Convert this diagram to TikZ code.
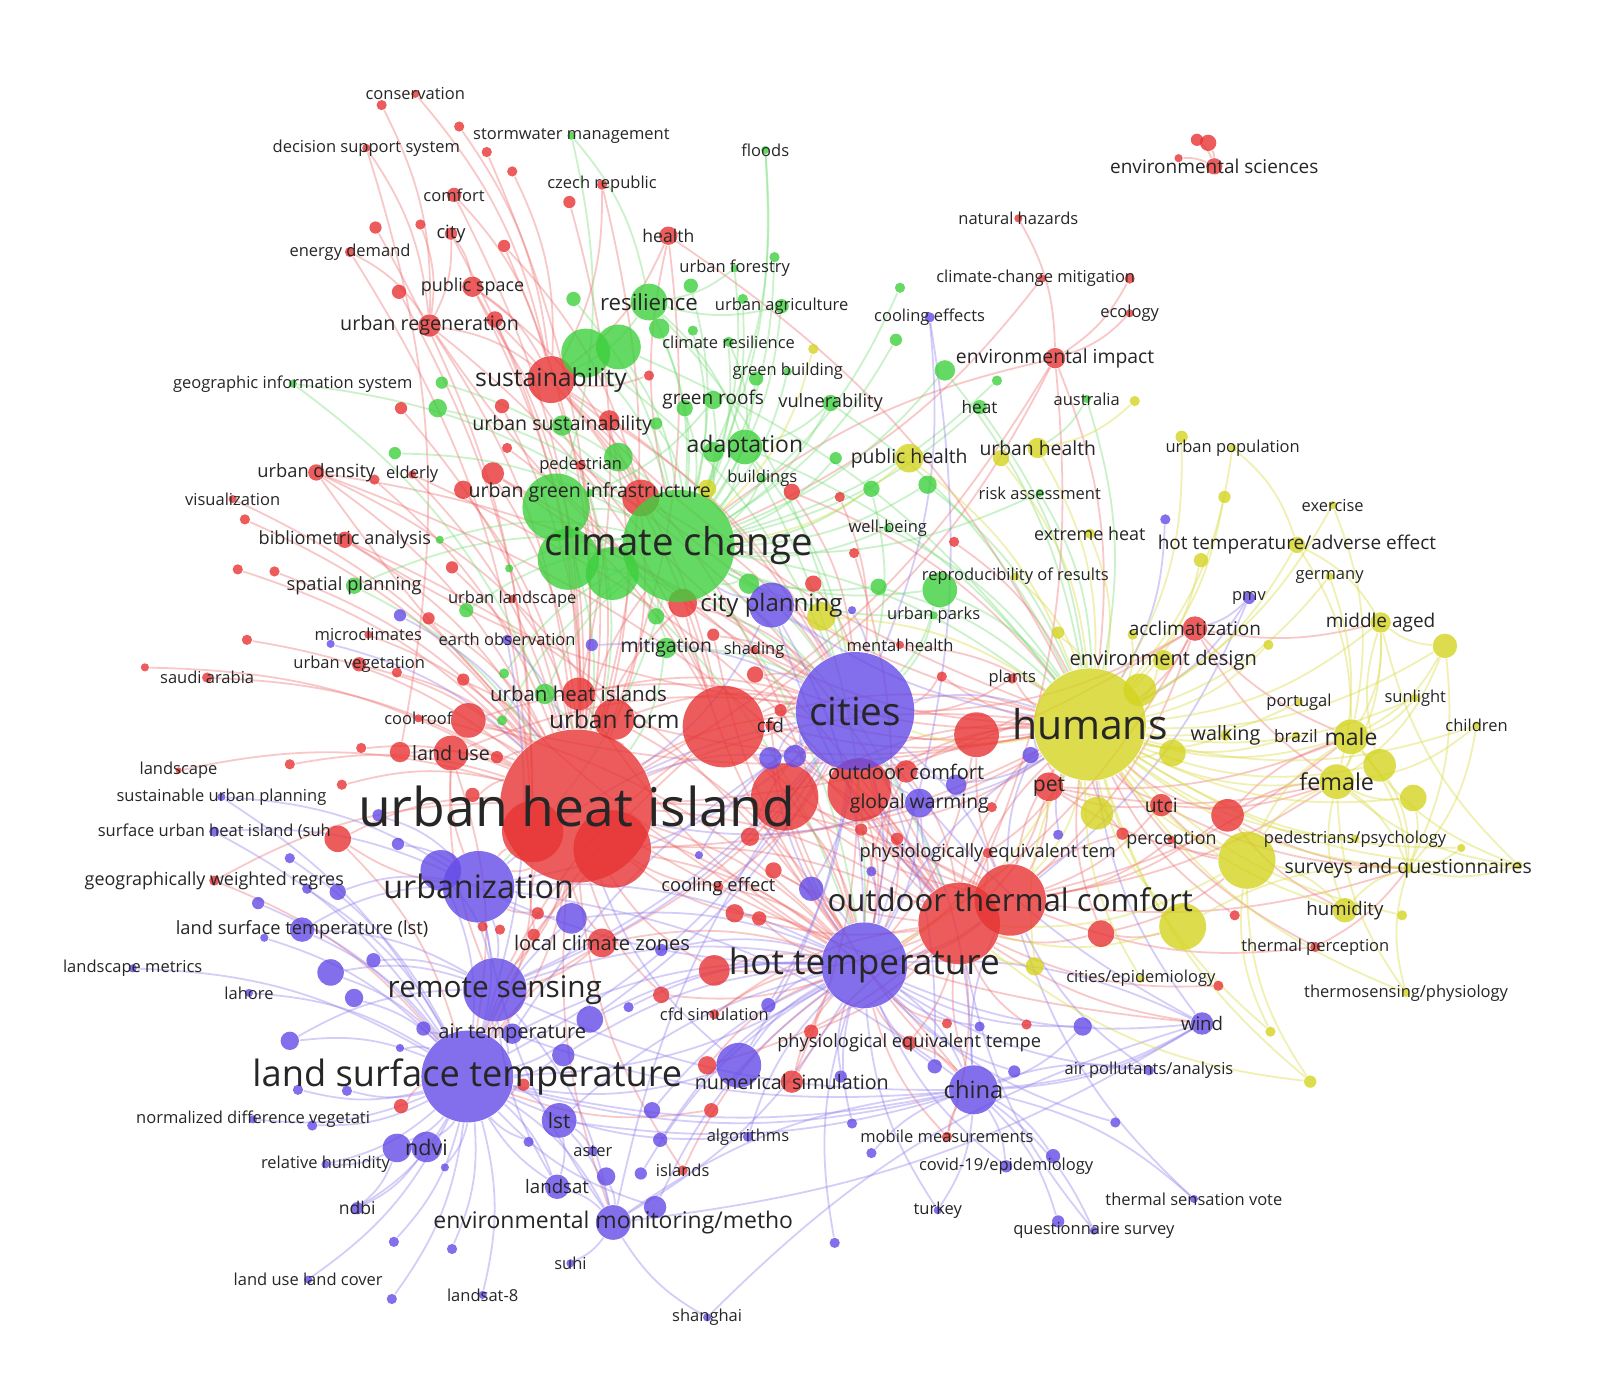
\documentclass[tikz,border=0pt]{standalone}
\usepackage{fontspec}
\setmainfont{Open Sans}
\usepackage{tikz}
\usetikzlibrary{backgrounds}
\definecolor{kwred}{RGB}{232,52,52}
\definecolor{kwgreen}{RGB}{62,208,62}
\definecolor{kwblue}{RGB}{100,74,230}
\definecolor{kwyellow}{RGB}{212,212,32}
\tikzstyle{kw} = [circle, inner sep=0pt, draw=none, fill opacity=.8]
\tikzset{rn/.style={kw, fill=kwred, minimum size=#1*0.2mm},
         gn/.style={kw, fill=kwgreen, minimum size=#1*0.2mm},
         bn/.style={kw, fill=kwblue, minimum size=#1*0.2mm},
         yn/.style={kw, fill=kwyellow, minimum size=#1*0.2mm},
         lbl/.style={font=\fontsize{#1}{#1}\selectfont, text=black!85, inner sep=0pt}}
\tikzstyle{eR} = [draw=kwred!75, opacity=.36, line width=.5pt]
\tikzstyle{eG} = [draw=kwgreen!75, opacity=.36, line width=.5pt]
\tikzstyle{eB} = [draw=kwblue!75, opacity=.36, line width=.5pt]
\tikzstyle{eY} = [draw=kwyellow!85, opacity=.4, line width=.5pt]

\begin{document}
\begin{tikzpicture}[x=0.1mm, y=-0.1mm]
\useasboundingbox (0,0) rectangle (1568,1355);

% red cluster
\node[rn=75] (uhi) at (565,790) {};
\node[rn=38] (uhiB) at (600,832) {};
\node[rn=30] (uhiC) at (522,815) {};
\node[rn=40] (bigr) at (709,712) {};
\node[rn=33] (wr) at (769,781) {};
\node[rn=31] (ocB) at (842,774) {};
\node[rn=40] (otc) at (940,905) {};
\node[rn=35] (otc2) at (990,882) {};
\node[rn=23] (sus) at (540,372) {};
\node[rn=22] (redAL) at (957,720) {};
\node[rn=20] (uform) at (602,705) {};
\node[rn=18] (redAC) at (628,488) {};
\node[rn=17] (coolb) at (459,706) {};
\node[rn=17] (luse) at (442,738) {};
\node[rn=16] (uhis) at (567,680) {};
\node[rn=16] (redAN) at (1203,799) {};
\node[rn=15] (redAU) at (700,951) {};
\node[rn=14] (pet) at (1028,771) {};
\node[rn=14] (lcz) at (590,924) {};
\node[rn=14] (redAB) at (669,591) {};
\node[rn=13] (suhr) at (331,822) {};
\node[rn=13] (redBA) at (1079,915) {};
\node[rn=11] (oc) at (888,756) {};
\node[rn=11] (ureg) at (421,319) {};
\node[rn=11] (redM) at (483,464) {};
\node[rn=11] (utci) at (1138,789) {};
\node[rn=12] (accl) at (1171,616) {};
\node[rn=11] (numsim) at (776,1060) {};
\node[rn=10] (pubsp) at (463,281) {};
\node[rn=10] (luseb) at (392,737) {};
\node[rn=10] (usus) at (597,412) {};
\node[rn=9] (health) at (655,231) {};
\node[rn=10] (envimp) at (1034,351) {};
\node[rn=9] (redN) at (454,480) {};
\node[rn=9] (redAQ) at (735,820) {};
\node[rn=9] (redAS) at (720,895) {};
\node[rn=9] (redAX2) at (693,1044) {};
\node[rn=8] (envs) at (1190,163) {};
\node[rn=8] (envsB) at (1184,140) {};
\node[rn=6] (envsA) at (1173,137) {};
\node[rn=4] (envsC) at (1155,155) {};
\node[rn=8] (redI) at (485,313) {};
\node[rn=8] (udens) at (310,463) {};
\node[rn=8] (biblio) at (338,529) {};
\node[rn=8] (redAD) at (740,661) {};
\node[rn=8] (redAF) at (776,482) {};
\node[rn=8] (redAR) at (758,853) {};
\node[rn=8] (redAV) at (648,975) {};
\node[rn=8] (redAY2) at (797,572) {};
\node[rn=7] (comf) at (445,191) {};
\node[rn=7] (redH) at (391,286) {};
\node[rn=7] (uveg) at (352,651) {};
\node[rn=7] (redJ) at (492,398) {};
\node[rn=7] (redAA) at (463,779) {};
\node[rn=7] (redAT) at (744,900) {};
\node[rn=7] (redAW) at (795,1011) {};
\node[rn=7] (peqtb) at (891,1022) {};
\node[rn=7] (redAX) at (697,1088) {};
\node[rn=7] (redBD) at (393,1084) {};
\node[rn=6] (city) at (442,229) {};
\node[rn=6] (redE) at (368,223) {};
\node[rn=6] (redG) at (494,241) {};
\node[rn=6] (redD) at (558,198) {};
\node[rn=6] (redK) at (393,400) {};
\node[rn=6] (redR) at (443,556) {};
\node[rn=6] (redS) at (420,606) {};
\node[rn=6] (redW) at (454,666) {};
\node[rn=6] (redAE) at (699,622) {};
\node[rn=6] (redAM) at (1100,817) {};
\node[rn=6] (redAP) at (879,822) {};
\node[rn=6] (redAK) at (765,696) {};
\node[rn=6] (redBF) at (487,742) {};
\node[rn=6] (redBG) at (844,813) {};
\node[rn=6] (redBH) at (527,895) {};
\node[rn=6] (redBI) at (523,916) {};
\node[rn=6] (redBJ) at (513,1063) {};
\node[rn=5] (consb) at (374,103) {};
\node[rn=5] (redA) at (450,124) {};
\node[rn=5] (redB) at (477,149) {};
\node[rn=5] (redC) at (502,168) {};
\node[rn=5] (redF) at (412,220) {};
\node[rn=5] (czech) at (590,181) {};
\node[rn=5] (ened) at (343,247) {};
\node[rn=5] (redL) at (497,439) {};
\node[rn=5] (elderB) at (367,470) {};
\node[rn=5] (pedes) at (569,456) {};
\node[rn=5] (redO) at (240,509) {};
\node[rn=5] (redP) at (233,558) {};
\node[rn=5] (redQ) at (269,560) {};
\node[rn=5] (redT) at (242,627) {};
\node[rn=5] (saudi) at (203,664) {};
\node[rn=5] (redV) at (389,659) {};
\node[rn=5] (redX) at (354,733) {};
\node[rn=5] (redY) at (284,749) {};
\node[rn=5] (redZ) at (335,769) {};
\node[rn=5] (gwr) at (210,863) {};
\node[rn=5] (redAG) at (823,487) {};
\node[rn=5] (redAH) at (837,542) {};
\node[rn=5] (redAI) at (935,531) {};
\node[rn=5] (redBK) at (636,368) {};
\node[rn=5] (redBL) at (923,663) {};
\node[rn=5] (redBM) at (972,791) {};
\node[rn=5] (plants) at (992,665) {};
\node[rn=5] (cooleff) at (704,869) {};
\node[rn=5] (cfdsim) at (700,994) {};
\node[rn=5] (mobm) at (928,1114) {};
\node[rn=5] (islands) at (669,1147) {};
\node[rn=5] (redAY) at (928,1003) {};
\node[rn=5] (redAZ) at (1006,1004) {};
\node[rn=5] (redBB) at (1210,897) {};
\node[rn=5] (thperc) at (1289,928) {};
\node[rn=5] (redBC) at (1194,966) {};
\node[rn=5] (redBN) at (473,908) {};
\node[rn=5] (redBO) at (490,911) {};
\node[rn=5] (peqt) at (968,836) {};
\node[rn=5] (ccmit) at (1107,273) {};
\node[rn=5] (cfd) at (755,711) {};
\node[rn=4] (cons) at (407,92) {};
\node[rn=4] (dss) at (359,145) {};
\node[rn=4] (elder) at (404,465) {};
\node[rn=4] (visual) at (228,489) {};
\node[rn=4] (micro) at (361,622) {};
\node[rn=4] (uland) at (502,587) {};
\node[rn=4] (redU) at (142,654) {};
\node[rn=4] (nathaz) at (998,214) {};
\node[rn=4] (ccmitB) at (1021,273) {};
\node[rn=4] (ecol) at (1107,307) {};
\node[rn=4] (cool) at (410,704) {};
\node[rn=4] (shade) at (739,637) {};
\node[rn=4] (menth) at (882,632) {};
\node[rn=4] (percep) at (1148,823) {};
\node[rn=3] (lscp) at (175,755) {};

% green cluster
\node[gn=55] (cc) at (665,535) {};
\node[gn=33] (ccB) at (545,497) {};
\node[gn=30] (ccC) at (557,548) {};
\node[gn=26] (ccD) at (600,562) {};
\node[gn=24] (greenE) at (574,346) {};
\node[gn=22] (greenF) at (606,340) {};
\node[gn=18] (res) at (636,296) {};
\node[gn=17] (ada) at (730,438) {};
\node[gn=17] (greenAD) at (921,578) {};
\node[gn=14] (greenU) at (606,448) {};
\node[gn=10] (greenG) at (646,322) {};
\node[gn=10] (greenL) at (926,363) {};
\node[gn=10] (greenR) at (551,417) {};
\node[gn=10] (greenS) at (699,443) {};
\node[gn=10] (mitig) at (653,635) {};
\node[gn=10] (greenAE) at (534,680) {};
\node[gn=10] (greenAB) at (734,572) {};
\node[gn=9] (groofs) at (699,392) {};
\node[gn=9] (greenO) at (429,400) {};
\node[gn=9] (greenW) at (909,475) {};
\node[gn=8] (greenI) at (671,400) {};
\node[gn=8] (vul) at (814,395) {};
\node[gn=8] (splan) at (347,574) {};
\node[gn=8] (greenV) at (854,479) {};
\node[gn=8] (greenAC) at (861,575) {};
\node[gn=8] (greenAH) at (643,604) {};
\node[gn=7] (greenB) at (562,293) {};
\node[gn=7] (greenC) at (677,280) {};
\node[gn=7] (uagri) at (766,300) {};
\node[gn=7] (greenBld) at (741,371) {};
\node[gn=7] (heat) at (960,399) {};
\node[gn=7] (greenAA) at (457,598) {};
\node[gn=6] (greenN) at (433,375) {};
\node[gn=6] (greenK) at (878,333) {};
\node[gn=6] (greenP) at (387,444) {};
\node[gn=6] (greenQ) at (643,415) {};
\node[gn=6] (greenT) at (819,449) {};
\node[gn=5] (greenA) at (759,252) {};
\node[gn=5] (greenD) at (728,293) {};
\node[gn=5] (clres) at (714,335) {};
\node[gn=5] (greenH) at (679,324) {};
\node[gn=5] (greenJ) at (882,282) {};
\node[gn=5] (greenM) at (977,373) {};
\node[gn=5] (greenAF) at (492,706) {};
\node[gn=5] (greenAI) at (494,660) {};
\node[gn=4] (uforest) at (720,263) {};
\node[gn=4] (storm) at (560,133) {};
\node[gn=4] (floods) at (750,147) {};
\node[gn=4] (gis) at (287,376) {};
\node[gn=4] (greenY) at (431,529) {};
\node[gn=4] (greenZ) at (499,557) {};
\node[gn=4] (risk) at (1019,483) {};
\node[gn=4] (wellb) at (870,518) {};
\node[gn=4] (uparks) at (915,603) {};
\node[gn=4] (aus) at (1065,391) {};
\node[gn=4] (ugi) at (578,483) {};
\node[gn=4] (build) at (747,469) {};
\node[gn=4] (gbuild) at (772,364) {};

% blue cluster
\node[bn=58] (cities) at (838,697) {};
\node[bn=45] (lst) at (458,1055) {};
\node[bn=42] (ht) at (847,946) {};
\node[bn=35] (urb) at (469,869) {};
\node[bn=31] (rs) at (485,970) {};
\node[bn=24] (china) at (954,1068) {};
\node[bn=22] (cp) at (756,593) {};
\node[bn=22] (numsimB) at (724,1044) {};
\node[bn=20] (urbB) at (432,853) {};
\node[bn=17] (lstn) at (548,1098) {};
\node[bn=17] (envmon) at (601,1198) {};
\node[bn=15] (blueP) at (560,900) {};
\node[bn=15] (ndvi) at (418,1124) {};
\node[bn=14] (ndviB) at (389,1125) {};
\node[bn=14] (gw) at (901,787) {};
\node[bn=13] (blueS) at (324,953) {};
\node[bn=13] (blueY) at (578,999) {};
\node[bn=12] (lsat) at (546,1163) {};
\node[bn=12] (lstl) at (296,911) {};
\node[bn=12] (blueQ) at (795,871) {};
\node[bn=11] (blueF) at (755,743) {};
\node[bn=11] (blueG) at (779,741) {};
\node[bn=11] (blueAP) at (642,1183) {};
\node[bn=11] (wind) at (1178,1003) {};
\node[bn=11] (blueBA) at (552,1034) {};
\node[bn=10] (blueI) at (937,769) {};
\node[bn=10] (airt) at (502,1013) {};
\node[bn=9] (blueT) at (347,978) {};
\node[bn=9] (blueV) at (284,1020) {};
\node[bn=9] (blueAB) at (1061,1006) {};
\node[bn=9] (blueAL) at (594,1153) {};
\node[bn=8] (blueH) at (1010,740) {};
\node[bn=8] (blueN) at (331,874) {};
\node[bn=8] (blueAO) at (639,1088) {};
\node[bn=7] (blueU) at (366,941) {};
\node[bn=7] (blueW) at (415,1008) {};
\node[bn=7] (blueAA) at (753,985) {};
\node[bn=7] (blueAN) at (647,1117) {};
\node[bn=7] (blueAS) at (916,1045) {};
\node[bn=7] (blueAV) at (1032,1133) {};
\node[bn=6] (blueC) at (580,632) {};
\node[bn=6] (blueD) at (392,603) {};
\node[bn=6] (blueJ) at (371,799) {};
\node[bn=6] (blueK) at (390,827) {};
\node[bn=6] (blueM) at (253,885) {};
\node[bn=6] (blueAM) at (628,1150) {};
\node[bn=6] (blueAT) at (994,1050) {};
\node[bn=6] (blueAW) at (1037,1197) {};
\node[bn=6] (blueBB) at (824,1055) {};
\node[bn=6] (blueBC) at (648,931) {};
\node[bn=6] (ndbi) at (350,1184) {};
\node[bn=6] (covid) at (986,1143) {};
\node[bn=6] (pmv) at (1224,586) {};
\node[bn=5] (blueL) at (284,841) {};
\node[bn=5] (blueO) at (301,871) {};
\node[bn=5] (blueZ) at (616,987) {};
\node[bn=5] (blueAC) at (960,1006) {};
\node[bn=5] (blueAE) at (292,1068) {};
\node[bn=5] (blueAF) at (340,1069) {};
\node[bn=5] (blueAG) at (306,1103) {};
\node[bn=5] (blueAI) at (386,1217) {};
\node[bn=5] (blueAJ) at (443,1224) {};
\node[bn=5] (blueAK) at (384,1273) {};
\node[bn=5] (blueAQ) at (854,1130) {};
\node[bn=5] (blueAR) at (818,1218) {};
\node[bn=5] (blueAX) at (1093,1100) {};
\node[bn=5] (blueBD) at (518,1119) {};
\node[bn=5] (blueBE) at (835,1101) {};
\node[bn=5] (blueBF) at (1037,818) {};
\node[bn=5] (blueBG) at (854,854) {};
\node[bn=5] (blueA) at (1142,509) {};
\node[bn=5] (cooleffs) at (911,311) {};
\node[bn=5] (eobs) at (497,627) {};
\node[bn=5] (aster) at (581,1128) {};
\node[bn=5] (algo) at (733,1114) {};
\node[bn=5] (airp) at (1126,1049) {};
\node[bn=5] (suhil) at (210,815) {};
\node[bn=4] (blueB) at (835,598) {};
\node[bn=4] (blueE) at (324,631) {};
\node[bn=4] (blueR) at (259,919) {};
\node[bn=4] (blueX) at (392,1027) {};
\node[bn=4] (blueAH) at (436,1144) {};
\node[bn=4] (blueBH) at (685,838) {};
\node[bn=4] (susup) at (217,781) {};
\node[bn=4] (lscm) at (130,949) {};
\node[bn=4] (lahore) at (244,973) {};
\node[bn=4] (ndvil) at (248,1097) {};
\node[bn=4] (relhum) at (319,1141) {};
\node[bn=4] (lulc) at (302,1254) {};
\node[bn=4] (lsat8) at (473,1269) {};
\node[bn=4] (suhi) at (559,1238) {};
\node[bn=4] (shang) at (693,1291) {};
\node[bn=4] (turkey) at (919,1186) {};
\node[bn=4] (tsv) at (1170,1175) {};
\node[bn=4] (qsurv) at (1072,1206) {};

% yellow cluster
\node[yn=55] (hum) at (1068,710) {};
\node[yn=28] (sqB) at (1222,843) {};
\node[yn=23] (yelR) at (1159,908) {};
\node[yn=17] (male) at (1324,722) {};
\node[yn=17] (female) at (1310,766) {};
\node[yn=16] (humB) at (1117,676) {};
\node[yn=16] (yelL) at (1352,750) {};
\node[yn=16] (yelN) at (1075,797) {};
\node[yn=14] (phealth) at (891,449) {};
\node[yn=14] (yelG) at (805,604) {};
\node[yn=13] (humC) at (1149,738) {};
\node[yn=13] (yelM) at (1385,782) {};
\node[yn=12] (humid) at (1318,892) {};
\node[yn=12] (yelI) at (1416,633) {};
\node[yn=10] (mid) at (1353,610) {};
\node[yn=10] (envd) at (1140,647) {};
\node[yn=10] (uhealth) at (1017,439) {};
\node[yn=9] (yelS) at (1014,947) {};
\node[yn=9] (yelH) at (693,479) {};
\node[yn=8] (yelC) at (981,449) {};
\node[yn=8] (hotadv) at (1271,534) {};
\node[yn=7] (yelF) at (1177,549) {};
\node[yn=6] (yelD) at (1158,428) {};
\node[yn=6] (yelE) at (1200,487) {};
\node[yn=6] (yelK) at (1037,620) {};
\node[yn=6] (yelU) at (1284,1060) {};
\node[yn=5] (yelB) at (1112,393) {};
\node[yn=5] (xheat) at (1068,523) {};
\node[yn=5] (yelJ) at (1243,632) {};
\node[yn=5] (yelT) at (1245,1011) {};
\node[yn=5] (yelQ) at (1374,897) {};
\node[yn=5] (yelW) at (1110,622) {};
\node[yn=5] (walk) at (1201,721) {};
\node[yn=5] (sq) at (1380,851) {};
\node[yn=5] (yelA) at (797,342) {};
\node[yn=4] (upop) at (1208,439) {};
\node[yn=4] (exer) at (1306,495) {};
\node[yn=4] (germ) at (1303,565) {};
\node[yn=4] (repro) at (995,565) {};
\node[yn=4] (port) at (1273,688) {};
\node[yn=4] (sun) at (1387,684) {};
\node[yn=4] (child) at (1447,711) {};
\node[yn=4] (brazil) at (1270,721) {};
\node[yn=4] (pedpsy) at (1328,822) {};
\node[yn=4] (yelO) at (1432,831) {};
\node[yn=4] (yelP) at (1488,848) {};
\node[yn=4] (citepi) at (1118,959) {};
\node[yn=4] (thermo) at (1378,973) {};

% links
\begin{scope}[on background layer]
\fill[white] (0,0) rectangle (1568,1355);
\foreach \a/\b in {cons/sus, consb/ureg, redA/sus, dss/ureg, dss/luseb, redB/uhi, redC/sus, czech/sus, czech/uhi, redD/uhis, comf/uhi, comf/sus, city/pubsp, city/uhi, city/ureg, redE/uhiC, redF/ureg, redG/uhi, redG/redAC, ened/uhiC, ened/ureg, health/uhi, health/sus, health/hum, pubsp/uhi, pubsp/sus, pubsp/redAC, redH/uhiC, ureg/uhi, ureg/sus, ureg/bigr, redI/uhi, redI/bigr, envsA/envs, envsB/envs, envsC/envs, envsA/envsB, ccmit/envimp, ecol/envimp, nathaz/envimp, envimp/uhi, envimp/otc, envimp/bigr, envimp/hum, sus/uhi, sus/bigr, sus/cc, sus/cities, sus/ht, redJ/uhi, redK/uhi, usus/uhi, usus/cities, redL/bigr, udens/uhi, udens/uform, udens/cities, udens/otc, elder/uhi, elder/otc, elderB/uhi, redM/uhi, redM/bigr, redM/otc, redN/uhi, pedes/otc, pedes/uhi, visual/uhi, redO/uhi, biblio/uhi, biblio/ht, redP/uhi, redQ/uhi, redR/uhi, redS/uhi, redT/uhi, saudi/uhi, redU/uhi, uveg/uhi, redV/uhi, micro/uhi, uland/uhi, redW/uhi, cool/uhi, coolb/uhi, coolb/cities, coolb/ht, luse/uhi, luse/lst, luse/cities, luseb/uhi, redX/uhi, redY/uhi, redZ/uhi, lscp/uhi, redAA/uhi, suhr/uhi, suhr/lst, gwr/lst, gwr/uhi}
  \draw[eR] (\a) to[bend left=14] (\b);
\foreach \a/\b in {uhi/cities, uhi/ht, uhi/cc, uhi/urb, uhi/lst, uhi/rs, uhi/otc, uhi/hum, uhi/china, uhi/otc2, uhiB/ht, uhiB/otc, uhiC/lst, uhis/cities, uform/uhi, uform/cities, uform/ht, redAB/cities, redAC/cities, redAC/uhi, redAD/cities, redAE/cities, redAF/cities, redAF/hum, redAG/cities, redAH/ht, redAI/hum, bigr/cities, bigr/ht, bigr/hum, bigr/otc, cfd/cities, cfd/otc, wr/cities, wr/ht, wr/hum, wr/otc, oc/hum, oc/otc, oc/cities, ocB/hum, ocB/ht, redAL/hum, redAL/cities, redAL/ht, pet/hum, pet/otc, pet/otc2, utci/otc2, utci/hum, utci/pet, percep/otc2, redAM/hum, redAN/hum, redAN/otc2, redAN/male, redAN/female, accl/hum, accl/otc2, accl/ht, accl/uhi, accl/cities, plants/cities, shade/cities, menth/hum, peqt/otc, peqt/ht, redAP/ht, cooleff/uhi, cooleff/ht, redAQ/cities, redAR/ht, redAS/ht, redAT/uhi, lcz/uhi, lcz/rs, lcz/ht, redAU/ht, redAU/uhi, redAV/uhi, cfdsim/ht, cfdsim/otc, redAW/ht, peqtb/ht, peqtb/china, numsim/ht, numsim/otc, redAX/lst, mobm/ht, mobm/china, islands/uhi, islands/ht, redAY/ht, redAZ/otc, otc/ht, otc/hum, otc/cities, otc2/hum, otc2/cities, otc2/ht, redBA/hum, redBA/otc, redBB/hum, thperc/otc2, thperc/hum, redBC/otc, redBD/lst, redBF/uhi, redBG/ht, redBH/urb, redBI/uhi, redBJ/lst, redBK/sus, redBL/cities, redBM/hum, redAX2/ht, redAK/cities, redAY2/cities, ccmitB/cc}
  \draw[eR] (\a) to[bend left=14] (\b);
\foreach \a/\b in {redAD/hum, redAE/ht, redAK/hum, redAQ/hum, redAR/otc, redAS/otc, redAT/ht, redAU/otc, redAV/ht, redAW/otc, redAX2/otc, redBG/hum, redBL/hum, redBM/otc, plants/hum, shade/hum, cfd/hum, cfd/ht, oc/ht, ocB/otc, wr/china, bigr/rs, bigr/lst, uform/hum, uhis/ht, lcz/lst, lcz/cities, cooleff/cities, peqt/hum, peqtb/otc, numsim/cities, mobm/otc, otc/china, otc/wind, otc2/male, otc2/female, otc2/sq, pet/male, pet/female, utci/female, utci/sq, accl/male, accl/female, accl/mid, redAN/sq, redBA/sqB, percep/sqB, thperc/sq, health/cc, envimp/cc, sus/hum, ureg/cities, pubsp/cities, udens/ht, biblio/cities, luse/rs, luse/urb, coolb/hum, suhr/urb, redAC/hum, redAB/uhi, redAB/ht, uhiB/hum, uhiC/urb, uhi/wind, uhi/envmon, uhiB/lst, wr/otc2, bigr/otc2, ocB/otc2, redAL/otc2, pet/sqB, utci/sqB, redAN/humid, redBA/yelR, redAM/otc2}
  \draw[eR] (\a) to[bend right=12] (\b);
\foreach \a/\b in {storm/res, storm/ccB, floods/cc, floods/greenS, uforest/res, uforest/cc, greenA/cc, res/cc, res/ada, res/sus, greenB/cc, greenC/cc, uagri/cc, uagri/res, greenD/cc, greenE/cc, greenF/cc, greenG/cc, clres/cc, clres/ada, greenH/cc, greenBld/cc, gbuild/cc, groofs/cc, groofs/ugi, greenI/cc, vul/cc, vul/ada, vul/hum, greenJ/cc, greenK/cc, greenL/cc, greenL/hum, greenM/cc, heat/cc, heat/hum, gis/cc, gis/greenAE, greenN/cc, greenO/cc, greenP/cc, greenQ/cc, greenR/cc, ada/cc, ada/cities, ada/hum, greenS/cc, greenT/cc, greenU/cc, risk/cc, risk/hum, greenV/cc, greenW/cc, wellb/cc, wellb/hum, ccB/cc, ccC/cc, ccD/cc, ugi/cc, ugi/uhi, greenY/cc, splan/cc, splan/uhi, greenZ/cc, greenAA/cc, greenAB/cc, greenAC/cc, greenAD/cc, greenAD/hum, uparks/cc, uparks/cities, mitig/cc, mitig/uhi, greenAE/cc, greenAF/cc, greenAH/cc, greenAI/cc, build/cc, cc/cities, cc/hum, cc/ht, cc/urb, cc/otc, aus/uhealth, aus/hum, res/cities, ada/ht, ccB/uhi, ccC/cities, ccD/ht, greenE/cities, greenF/hum, greenAD/cities, greenAC/hum, greenW/hum, greenV/cities, mitig/cities, greenAE/uhi}
  \draw[eG] (\a) to[bend left=14] (\b);
\foreach \a/\b in {cooleffs/cities, cooleffs/ht, blueA/hum, pmv/accl, pmv/otc2, pmv/hum, cp/cities, cp/cc, cp/uhi, cp/ht, blueB/cities, eobs/uhi, eobs/lst, blueC/cities, blueD/uhi, blueE/uhi, cities/ht, cities/china, cities/urb, cities/lst, cities/rs, cities/hum, cities/otc2, blueF/cities, blueG/cities, blueH/hum, blueI/cities, gw/cities, gw/ht, gw/uhi, susup/urb, susup/lst, suhil/lst, suhil/urb, blueJ/urb, blueK/urb, blueL/lst, blueM/lst, blueN/urb, blueO/lst, urb/lst, urb/rs, urb/ht, urb/china, urb/cities, urbB/lst, urbB/rs, blueP/urb, blueP/ht, blueQ/ht, lstl/lst, lstl/urb, lstl/rs, blueR/lst, lscm/lst, lahore/lst, blueS/lst, blueS/rs, blueT/lst, blueU/rs, blueV/lst, blueV/rs, blueW/lst, blueX/lst, rs/lst, rs/ht, rs/envmon, airt/lst, airt/ht, blueY/ht, blueY/lst, blueZ/ht, blueAA/ht, blueBA/lst, blueBA/ht, blueBC/ht}
  \draw[eB] (\a) to[bend left=14] (\b);
\foreach \a/\b in {ht/china, ht/envmon, ht/lst, ht/wind, ht/hum, blueAB/ht, blueAB/china, wind/china, wind/ht, wind/hum, blueAC/ht, lst/ndvi, lst/ndviB, lst/lstn, lst/lsat, lst/envmon, lst/ndbi, lst/relhum, lst/ndvil, lst/lulc, lst/lsat8, lst/blueAI, lst/blueAK, lst/blueAJ, lst/blueAE, lst/blueAF, lst/blueAG, lst/blueAH, ndvi/ndbi, ndviB/relhum, ndviB/ndbi, lstn/lsat, lstn/aster, lstn/envmon, lstn/ht, lsat/envmon, blueAL/envmon, blueAM/ht, blueAN/ht, blueAO/ht, envmon/suhi, envmon/china, blueAP/ht, blueAP/lst, numsimB/ht, numsimB/lst, numsimB/uhi, algo/ht, algo/lst, blueAQ/china, blueAR/ht, shang/envmon, shang/wind, china/turkey, china/covid, china/blueAV, china/tsv, china/qsurv, china/blueAW, china/airp, china/lst, china/otc2, blueAS/ht, blueAT/ht, blueAX/ht, airp/ht, airp/otc2, covid/ht, tsv/otc2, qsurv/otc, turkey/ht, blueBB/ht, blueBD/lst, blueBE/ht, blueBF/hum, blueBG/ht, blueBH/cities}
  \draw[eB] (\a) to[bend left=14] (\b);
\foreach \a/\b in {cities/envmon, cities/wind, cities/otc, cities/airt, cp/hum, cp/otc, gw/hum, gw/otc, blueF/ht, blueG/uhi, blueI/hum, blueH/otc2, blueQ/cities, blueP/lst, rs/cities, rs/china, lst/china, urb/envmon, ht/otc2, china/wind, envmon/wind, lstn/china, numsimB/cities, blueY/cities, blueAA/cities, blueAS/cities, airt/china, lst/lsat, rs/lsat, urbB/ht}
  \draw[eB] (\a) to[bend right=12] (\b);
\foreach \a/\b in {yelA/cc, yelB/uhealth, phealth/hum, phealth/cc, uhealth/hum, yelC/hum, upop/hum, upop/hotadv, yelD/hum, exer/hum, exer/male, yelE/hum, xheat/hum, hotadv/hum, hotadv/male, hotadv/mid, yelF/hum, germ/hum, germ/female, repro/hum, yelG/cities, yelG/hum, yelH/cc, mid/hum, mid/male, mid/female, yelI/hum, yelI/male, yelI/female, yelI/sq, envd/hum, yelJ/hum, yelK/hum, yelW/hum, humB/hum, humC/hum, port/hum, sun/hum, sun/male, child/hum, child/female, child/sq, walk/hum, brazil/hum, male/hum, male/female, female/hum, female/sq, yelL/hum, yelL/mid, yelM/hum, yelM/sq, yelN/hum, pedpsy/hum, yelO/hum, yelO/sq, sq/hum, sqB/hum, sqB/otc, yelP/hum, yelP/male, yelP/female, yelP/mid, humid/hum, humid/sq, yelQ/hum, yelR/hum, yelR/otc, yelS/hum, yelS/otc, citepi/hum, thermo/hum, thermo/sq, yelT/hum, yelU/hum, yelU/otc, hum/otc2, hum/ht, hum/cities, sqB/male, sqB/female, sqB/humid, yelR/sq, yelL/sq, yelM/female, male/sq, humid/female, yelI/mid, yelP/sq, thermo/female, yelU/sqB, yelT/sqB}
  \draw[eY] (\a) to[bend left=16] (\b);
\end{scope}

% labels
\node[lbl=14.9] (uhi-l) at (uhi) {urban heat island};
\node[lbl=10.8] (cities-l) at (cities) {cities};
\node[lbl=11.4] (hum-l) at (hum) {humans};
\node[lbl=10.7] (cc-l) at (cc) {climate change};
\node[lbl=10.1] (lst-l) at (lst) {land surface temperature};
\node[lbl=9.8] (ht-l) at (ht) {hot temperature};
\node[lbl=9] (urb-l) at (urb) {urbanization};
\node[lbl=8.7] (otc2-l) at (otc2) {outdoor thermal comfort};
\node[lbl=8.3] (rs-l) at (rs) {remote sensing};
\node[lbl=6.7] (cp-l) at (cp) {city planning};
\node[lbl=6.9] (sus-l) at (sus) {sustainability};
\node[lbl=6.8] (uform-l) at (uform) {urban form};
\node[lbl=6.4] (envmon-l) at (envmon) {environmental monitoring/metho};
\node[lbl=6.6] (china-l) at (china) {china};
\node[lbl=6.2] (res-l) at (res) {resilience};
\node[lbl=6.4] (ada-l) at (ada) {adaptation};
\node[lbl=6.5] (female-l) at (female) {female};
\node[lbl=6.4] (male-l) at (male) {male};
\node[lbl=5.7] (uhis-l) at (uhis) {urban heat islands};
\node[lbl=5.6] (lcz-l) at (lcz) {local climate zones};
\node[lbl=5.6] (airt-l) at (airt) {air temperature};
\node[lbl=5.5] (numsim-l) at (numsim) {numerical simulation};
\node[lbl=5.6] (envd-l) at (envd) {environment design};
\node[lbl=5.6] (oc-l) at (oc) {outdoor comfort};
\node[lbl=5.4] (mitig-l) at (mitig) {mitigation};
\node[lbl=5.5] (walk-l) at (walk) {walking};
\node[lbl=5.5] (luse-l) at (luse) {land use};
\node[lbl=5.4] (sq-l) at (sq) {surveys and questionnaires};
\node[lbl=5.4] (phealth-l) at (phealth) {public health};
\node[lbl=5.4] (uhealth-l) at (uhealth) {urban health};
\node[lbl=5.4] (envimp-l) at (envimp) {environmental impact};
\node[lbl=5.45] (greenR-l) at (greenR) {urban sustainability};
\node[lbl=5.45] (ugi-l) at (ugi) {urban green infrastructure};
\node[lbl=5.4] (gw-l) at (gw) {global warming};
\node[lbl=5.5] (ureg-l) at (ureg) {urban regeneration};
\node[lbl=5.4] (utci-l) at (utci) {utci};
\node[lbl=5.9] (pet-l) at (pet) {pet};
\node[lbl=5.8] (lstn-l) at (lstn) {lst};
\node[lbl=6] (ndvi-l) at (ndvi) {ndvi};
\node[lbl=5.3] (mid-l) at (mid) {middle aged};
\node[lbl=5.3] (accl-l) at (accl) {acclimatization};
\node[lbl=5.3] (hotadv-l) at (hotadv) {hot temperature/adverse effect};
\node[lbl=5.3] (envs-l) at (envs) {environmental sciences};
\node[lbl=5.3] (groofs-l) at (groofs) {green roofs};
\node[lbl=5.3] (cfd-l) at (cfd) {cfd};
\node[lbl=5.2] (humid-l) at (humid) {humidity};
\node[lbl=5.2] (lsat-l) at (lsat) {landsat};
\node[lbl=5.2] (wind-l) at (wind) {wind};
\node[lbl=5.1] (splan-l) at (splan) {spatial planning};
\node[lbl=5.05] (biblio-l) at (biblio) {bibliometric analysis};
\node[lbl=5.1] (vul-l) at (vul) {vulnerability};
\node[lbl=5.1] (cooleff-l) at (cooleff) {cooling effect};
\node[lbl=5.1] (peqt-l) at (peqt) {physiologically equivalent tem};
\node[lbl=5.1] (peqtb-l) at (peqtb) {physiological equivalent tempe};
\node[lbl=5.1] (udens-l) at (udens) {urban density};
\node[lbl=5] (xheat-l) at (xheat) {extreme heat};
\node[lbl=5] (pubsp-l) at (pubsp) {public space};
\node[lbl=5] (percep-l) at (percep) {perception};
\node[lbl=5] (gwr-l) at (gwr) {geographically weighted regres};
\node[lbl=5.1] (lstl-l) at (lstl) {land surface temperature (lst)};
\node[lbl=4.9] (ndbi-l) at (ndbi) {ndbi};
\node[lbl=5.1] (city-l) at (city) {city};
\node[lbl=4.9] (health-l) at (health) {health};
\node[lbl=4.8] (heat-l) at (heat) {heat};
\node[lbl=4.8] (brazil-l) at (brazil) {brazil};
\node[lbl=4.6] (cons-l) at (cons) {conservation};
\node[lbl=4.6] (storm-l) at (storm) {stormwater management};
\node[lbl=4.6] (dss-l) at (dss) {decision support system};
\node[lbl=4.6] (czech-l) at (czech) {czech republic};
\node[lbl=4.6] (floods-l) at (floods) {floods};
\node[lbl=4.6] (comf-l) at (comf) {comfort};
\node[lbl=4.6] (ened-l) at (ened) {energy demand};
\node[lbl=4.6] (uforest-l) at (uforest) {urban forestry};
\node[lbl=4.6] (uagri-l) at (uagri) {urban agriculture};
\node[lbl=4.6] (nathaz-l) at (nathaz) {natural hazards};
\node[lbl=4.6] (ccmit-l) at (1015,273) {climate-change mitigation};
\node[lbl=4.6] (cooleffs-l) at (cooleffs) {cooling effects};
\node[lbl=4.6] (ecol-l) at (ecol) {ecology};
\node[lbl=4.6] (clres-l) at (clres) {climate resilience};
\node[lbl=4.6] (gbuild-l) at (gbuild) {green building};
\node[lbl=4.6] (aus-l) at (aus) {australia};
\node[lbl=4.6] (upop-l) at (upop) {urban population};
\node[lbl=4.6] (gis-l) at (gis) {geographic information system};
\node[lbl=4.6] (elder-l) at (elder) {elderly};
\node[lbl=4.6] (visual-l) at (visual) {visualization};
\node[lbl=4.6] (pedes-l) at (pedes) {pedestrian};
\node[lbl=4.6] (build-l) at (build) {buildings};
\node[lbl=4.6] (risk-l) at (risk) {risk assessment};
\node[lbl=4.6] (exer-l) at (exer) {exercise};
\node[lbl=4.6] (wellb-l) at (wellb) {well-being};
\node[lbl=4.6] (germ-l) at (germ) {germany};
\node[lbl=4.6] (repro-l) at (repro) {reproducibility of results};
\node[lbl=4.6] (uland-l) at (uland) {urban landscape};
\node[lbl=4.6] (pmv-l) at (pmv) {pmv};
\node[lbl=4.6] (micro-l) at (micro) {microclimates};
\node[lbl=4.6] (eobs-l) at (eobs) {earth observation};
\node[lbl=4.6] (uparks-l) at (uparks) {urban parks};
\node[lbl=4.6] (shade-l) at (shade) {shading};
\node[lbl=4.6] (menth-l) at (menth) {mental health};
\node[lbl=4.6] (uveg-l) at (uveg) {urban vegetation};
\node[lbl=4.6] (saudi-l) at (saudi) {saudi arabia};
\node[lbl=4.6] (plants-l) at (plants) {plants};
\node[lbl=4.6] (port-l) at (port) {portugal};
\node[lbl=4.6] (sun-l) at (sun) {sunlight};
\node[lbl=4.6] (child-l) at (child) {children};
\node[lbl=4.6] (cool-l) at (cool) {cool roof};
\node[lbl=4.6] (lscp-l) at (lscp) {landscape};
\node[lbl=4.6] (susup-l) at (susup) {sustainable urban planning};
\node[lbl=4.6] (suhil-l) at (suhil) {surface urban heat island (suh};
\node[lbl=4.6] (pedpsy-l) at (pedpsy) {pedestrians/psychology};
\node[lbl=4.6] (lscm-l) at (lscm) {landscape metrics};
\node[lbl=4.6] (lahore-l) at (lahore) {lahore};
\node[lbl=4.6] (thperc-l) at (thperc) {thermal perception};
\node[lbl=4.6] (citepi-l) at (citepi) {cities/epidemiology};
\node[lbl=4.6] (thermo-l) at (thermo) {thermosensing/physiology};
\node[lbl=4.6] (cfdsim-l) at (cfdsim) {cfd simulation};
\node[lbl=4.6] (airp-l) at (airp) {air pollutants/analysis};
\node[lbl=4.6] (ndvil-l) at (ndvil) {normalized difference vegetati};
\node[lbl=4.6] (algo-l) at (algo) {algorithms};
\node[lbl=4.6] (mobm-l) at (mobm) {mobile measurements};
\node[lbl=4.6] (relhum-l) at (relhum) {relative humidity};
\node[lbl=4.6] (aster-l) at (aster) {aster};
\node[lbl=4.6] (islands-l) at (islands) {islands};
\node[lbl=4.6] (covid-l) at (covid) {covid-19/epidemiology};
\node[lbl=4.6] (tsv-l) at (tsv) {thermal sensation vote};
\node[lbl=4.6] (turkey-l) at (turkey) {turkey};
\node[lbl=4.6] (qsurv-l) at (qsurv) {questionnaire survey};
\node[lbl=4.6] (suhi-l) at (suhi) {suhi};
\node[lbl=4.6] (lulc-l) at (lulc) {land use land cover};
\node[lbl=4.6] (lsat8-l) at (lsat8) {landsat-8};
\node[lbl=4.6] (shang-l) at (shang) {shanghai};
\end{tikzpicture}
\end{document}
